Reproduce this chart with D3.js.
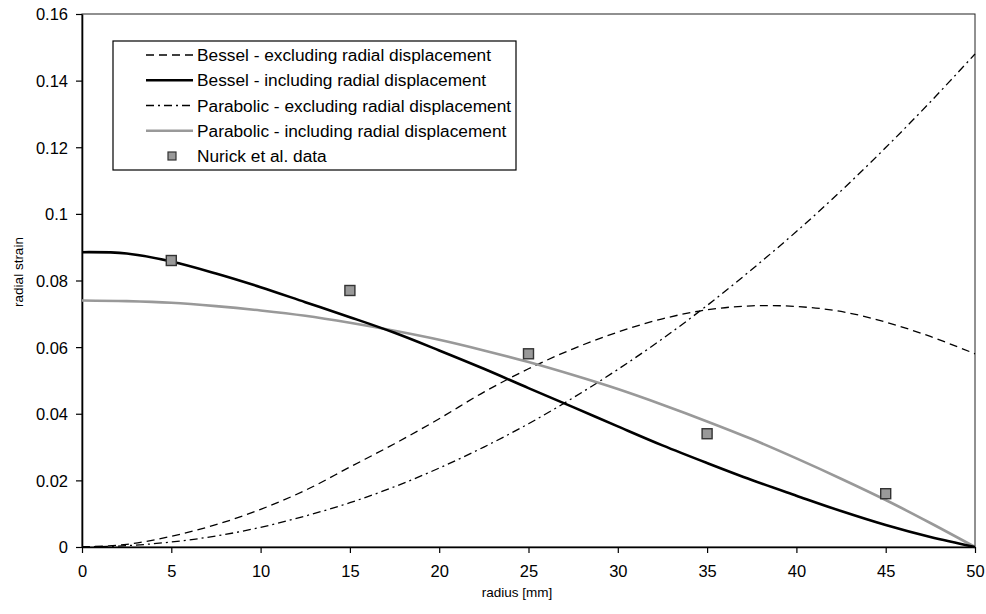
<!DOCTYPE html>
<html>
<head>
<meta charset="utf-8">
<script src="https://cdn.jsdelivr.net/npm/d3@7"></script>
<style>
  body { margin: 0; background: #fff; }
  svg text { font-family: "Liberation Sans", Arial, sans-serif; fill: #000; }
</style>
</head>
<body>
<svg id="chart" width="986" height="614"></svg>
<script>
// radius values [mm] for the curves
var radius = [0, 2.5, 5, 7.5, 10, 12.5, 15, 17.5, 20, 22.5, 25, 27.5, 30, 32.5, 35, 37.5, 40, 42.5, 45, 47.5, 50]

var besselExcl = [0, 0.0008, 0.0032, 0.0067, 0.0113, 0.0170, 0.0240, 0.0310, 0.0385, 0.0465, 0.0535,
    0.0595, 0.0645, 0.0685, 0.0712, 0.0724, 0.0722, 0.0707, 0.0675, 0.0632, 0.0580]
var besselIncl = [0.0885, 0.0881, 0.0857, 0.0821, 0.0780, 0.0735, 0.0690, 0.0643, 0.0590, 0.0535, 0.0477,
    0.0420, 0.0362, 0.0305, 0.0252, 0.0201, 0.0154, 0.0108, 0.0066, 0.0030, 0]
var parabExcl = [0, 0.0004, 0.0015, 0.0033, 0.0059, 0.0093, 0.0133, 0.0181, 0.0237, 0.0300, 0.0370,
    0.0448, 0.0533, 0.0625, 0.0725, 0.0833, 0.0947, 0.1069, 0.1199, 0.1336, 0.1480]
var parabIncl = [0.0740, 0.0738, 0.0733, 0.0723, 0.0710, 0.0694, 0.0673, 0.0649, 0.0622, 0.0590, 0.0555,
    0.0516, 0.0474, 0.0427, 0.0377, 0.0324, 0.0266, 0.0205, 0.0141, 0.0072, 0]

// Nurick et al. measured points
var nurickR = [5, 15, 25, 35, 45]
var nurickStrain = [0.086, 0.077, 0.058, 0.034, 0.016]

var xTicks = [0, 5, 10, 15, 20, 25, 30, 35, 40, 45, 50]
var yTicks = [0, 0.02, 0.04, 0.06, 0.08, 0.1, 0.12, 0.14, 0.16]

var seriesNames = ["Bessel - excluding radial displacement", "Bessel - including radial displacement",
    "Parabolic - excluding radial displacement", "Parabolic - including radial displacement"]

var styles = [
    { color: "#000", width: 1.3, dash: "8,5" },
    { color: "#000", width: 2.6, dash: null },
    { color: "#000", width: 1.3, dash: "8,4,2,4" },
    { color: "#999", width: 2.6, dash: null }
]

var svg = d3.select("#chart")
var margin = { top: 14, right: 11, bottom: 67, left: 82 }
var width = 986 - margin.left - margin.right
var height = 614 - margin.top - margin.bottom

var x = d3.scaleLinear().domain([0, 50]).range([margin.left, margin.left + width])
var y = d3.scaleLinear().domain([0, 0.16]).range([margin.top + height, margin.top])

// plot frame
svg.append("rect")
    .attr("x", x(0)).attr("y", y(0.16))
    .attr("width", x(50) - x(0)).attr("height", y(0) - y(0.16))
    .attr("fill", "none").attr("stroke", "#222").attr("stroke-width", 1)

var xAxis = svg.append("g")
    .attr("transform", `translate(0, ${y(0)})`)
    .call(d3.axisBottom(x).tickValues(xTicks).tickSize(6).tickSizeOuter(0).tickFormat(d3.format("d")))
var yAxis = svg.append("g")
    .attr("transform", `translate(${x(0)}, 0)`)
    .call(d3.axisLeft(y).tickValues(yTicks).tickSize(6).tickSizeOuter(0)
        .tickFormat(d => d === 0 ? "0" : d3.format("~g")(d)))

;[xAxis, yAxis].forEach(function (a) {
    a.select(".domain").attr("stroke", "#000").attr("stroke-width", 1.6)
    a.selectAll(".tick line").attr("stroke", "#000").attr("stroke-width", 1.2)
    a.selectAll("text").style("font-size", "16.5px").attr("fill", "#000")
})
xAxis.selectAll("text").attr("dy", "0").attr("y", 30)
yAxis.selectAll("text").attr("x", -14).attr("dy", "0.36em")

// axis titles
svg.append("text")
    .attr("x", 517).attr("y", 597)
    .attr("text-anchor", "middle")
    .style("font-size", "13.5px")
    .text("radius [mm]")
svg.append("text")
    .attr("transform", "translate(23, 272) rotate(-90)")
    .attr("text-anchor", "middle")
    .style("font-size", "13.5px")
    .text("radial strain")

// curves
var allSeries = [besselExcl, besselIncl, parabExcl, parabIncl]
var line = d3.line()
    .x((d, i) => x(radius[i]))
    .y(d => y(d))
    .curve(d3.curveCatmullRom.alpha(0.5))

var drawOrder = [0, 2, 3, 1]
drawOrder.forEach(function (k) {
    svg.append("path")
        .datum(allSeries[k])
        .attr("d", line)
        .attr("fill", "none")
        .attr("stroke", styles[k].color)
        .attr("stroke-width", styles[k].width)
        .attr("stroke-dasharray", styles[k].dash)
})

// measured data markers
var pts = nurickR.map((r, i) => [r, nurickStrain[i]])
svg.selectAll("rect.pt")
    .data(pts)
    .join("rect")
    .attr("class", "pt")
    .attr("x", d => x(d[0]) - 5)
    .attr("y", d => y(d[1]) - 5)
    .attr("width", 10).attr("height", 10)
    .attr("fill", "#999").attr("stroke", "#333").attr("stroke-width", 1.4)

// legend
var legend = svg.append("g")
legend.append("rect")
    .attr("x", 113).attr("y", 41)
    .attr("width", 403).attr("height", 129)
    .attr("fill", "#fff").attr("stroke", "#000").attr("stroke-width", 1.2)

var rowY = d3.scaleLinear().domain([0, 4]).range([55, 156])
seriesNames.forEach(function (name, i) {
    legend.append("line")
        .attr("x1", 146).attr("x2", 193)
        .attr("y1", rowY(i)).attr("y2", rowY(i))
        .attr("stroke", styles[i].color)
        .attr("stroke-width", styles[i].width)
        .attr("stroke-dasharray", styles[i].dash)
    legend.append("text")
        .attr("x", 197).attr("y", rowY(i)).attr("dy", "0.36em")
        .style("font-size", "17.3px")
        .text(name)
})
legend.append("rect")
    .attr("x", 168).attr("y", rowY(4) - 4)
    .attr("width", 8).attr("height", 8)
    .attr("fill", "#999").attr("stroke", "#333").attr("stroke-width", 1.2)
legend.append("text")
    .attr("x", 197).attr("y", rowY(4)).attr("dy", "0.36em")
    .style("font-size", "17.3px")
    .text("Nurick et al. data")
</script>
</body>
</html>
